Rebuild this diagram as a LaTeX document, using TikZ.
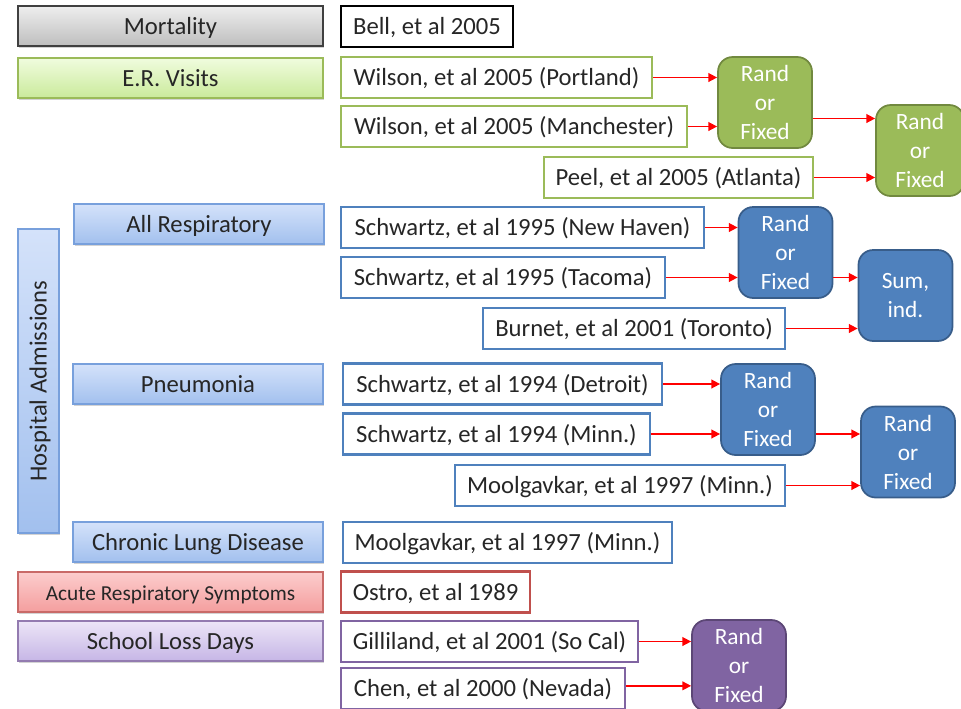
\documentclass[tikz,border=0pt]{standalone}
\usepackage{fontspec}
\setmainfont{Carlito}
\usepackage{tikz}
\usetikzlibrary{arrows.meta,shadows}
\definecolor{ergreen}{RGB}{155,187,89}
\definecolor{ergreendk}{RGB}{113,137,63}
\definecolor{hablue}{RGB}{79,129,189}
\definecolor{hablueln}{RGB}{120,160,220}
\definecolor{habluedk}{RGB}{56,93,138}
\definecolor{arsred}{RGB}{192,80,77}
\definecolor{slpurple}{RGB}{128,100,162}
\definecolor{slpurpledk}{RGB}{92,71,118}
% gradient ends of the outcome boxes
\definecolor{graytop}{RGB}{238,238,238}
\definecolor{graybot}{RGB}{190,190,190}
\definecolor{greentop}{RGB}{240,252,222}
\definecolor{greenbot}{RGB}{202,234,155}
\definecolor{bluetop}{RGB}{212,226,250}
\definecolor{bluebot}{RGB}{162,192,238}
\definecolor{redtop}{RGB}{252,205,205}
\definecolor{redbot}{RGB}{244,158,158}
\definecolor{purptop}{RGB}{236,229,247}
\definecolor{purpbot}{RGB}{198,182,230}
\tikzset{
  catbox/.style={rectangle, minimum width=228.75pt, minimum height=30pt, inner sep=2pt, line width=0.9pt,
    font=\fontsize{18.5}{21}\selectfont, text=black!85, text height=13pt, text depth=1pt,
    drop shadow={shadow xshift=1pt, shadow yshift=-1.4pt, opacity=0.35}},
  catgray/.style={catbox, draw=black!75, top color=graytop, bottom color=graybot},
  catgreen/.style={catbox, draw=ergreen, top color=greentop, bottom color=greenbot},
  catblue/.style={catbox, draw=hablueln, top color=bluetop, bottom color=bluebot},
  catred/.style={catbox, draw=arsred!85, top color=redtop, bottom color=redbot, font=\fontsize{16}{19}\selectfont},
  catpurple/.style={catbox, draw=slpurple!85, top color=purptop, bottom color=purpbot},
  studybox/.style={rectangle, fill=white, minimum height=30.75pt, inner sep=2pt, line width=2.2pt,
    font=\fontsize{18.5}{21}\selectfont, text=black!85, text height=13pt, text depth=1pt},
  poolbox/.style={rectangle, rounded corners=11pt, minimum width=70.5pt, minimum height=68.25pt, inner sep=1pt,
    line width=1.3pt, align=center, text=white, font=\fontsize{17.5}{21.75}\selectfont},
  redarrow/.style={-{Triangle[length=6.5pt,width=6.5pt]}, line width=1.1pt, red}
}

\begin{document}
\begin{tikzpicture}[x=0.75pt,y=-0.75pt]
\useasboundingbox (0,0) rectangle (961,708);
\clip (0,0) rectangle (961,708);
% outcome categories
\node[catgray] (mort) at (170.5,26) {Mortality};
\node[catgreen] (er) at (170.5,78) {E.R. Visits};
\node[catblue, rotate=90, minimum width=228pt, minimum height=30.75pt] (hosp) at (38.5,381) {Hospital Admissions};
\node[catblue, minimum width=187.5pt] (allresp) at (199,224) {All Respiratory};
\node[catblue, minimum width=187.5pt] (pneu) at (198,384) {Pneumonia};
\node[catblue, minimum width=187.5pt] (chronic) at (198,542) {Chronic Lung Disease};
\node[catred] (acute) at (170.5,592) {Acute Respiratory Symptoms};
\node[catpurple] (school) at (170.5,641) {School Loss Days};

% studies
\node[studybox, draw=black, minimum width=129pt] (bell) at (427,26.5) {Bell, et al 2005};
\node[studybox, draw=ergreen, minimum width=233.25pt] (wilport) at (496.5,77.5) {Wilson, et al 2005 (Portland)};
\node[studybox, draw=ergreen, minimum width=259.5pt] (wilman) at (514,126.5) {Wilson, et al 2005 (Manchester)};
\node[studybox, draw=ergreen, minimum width=201.75pt] (peel) at (678.5,177.5) {Peel, et al 2005 (Atlanta)};
\node[studybox, draw=hablue, minimum width=272.25pt] (schnh) at (522.5,227.5) {Schwartz, et al 1995 (New Haven)};
\node[studybox, draw=hablue, minimum width=243pt] (schtac) at (503,277.5) {Schwartz, et al 1995 (Tacoma)};
\node[studybox, draw=hablue, minimum width=226.5pt] (burnet) at (634,328.5) {Burnet, et al 2001 (Toronto)};
\node[studybox, draw=hablue, minimum width=239.25pt] (schdet) at (502.5,384) {Schwartz, et al 1994 (Detroit)};
\node[studybox, draw=hablue, minimum width=230.25pt] (schminn) at (496.5,434) {Schwartz, et al 1994 (Minn.)};
\node[studybox, draw=hablue, minimum width=247.5pt] (moolpn) at (620,485.5) {Moolgavkar, et al 1997 (Minn.)};
\node[studybox, draw=hablue, minimum width=246.75pt] (moolcld) at (507.5,542.5) {Moolgavkar, et al 1997 (Minn.)};
\node[studybox, draw=arsred, minimum width=141.75pt] (ostro) at (435.5,592) {Ostro, et al 1989};
\node[studybox, draw=slpurple, minimum width=222.75pt] (gill) at (489.5,641.5) {Gilliland, et al 2001 (So Cal)};
\node[studybox, draw=slpurple, minimum width=213pt] (chen) at (483,688.5) {Chen, et al 2000 (Nevada)};

% pooling steps
\node[poolbox, fill=ergreen, draw=ergreendk] (grf1) at (765,102.5) {Rand\\or\\Fixed};
\node[poolbox, fill=ergreen, draw=ergreendk, minimum width=66pt] (grf2) at (920,150.5) {Rand\\or\\Fixed};
\node[poolbox, fill=hablue, draw=habluedk] (brf1) at (785.5,252.5) {Rand\\or\\Fixed};
\node[poolbox, fill=hablue, draw=habluedk] (bsum) at (905.5,295.5) {Sum,\\ind.};
\node[poolbox, fill=hablue, draw=habluedk] (brf2) at (768,409.5) {Rand\\or\\Fixed};
\node[poolbox, fill=hablue, draw=habluedk] (brf3) at (908,452) {Rand\\or\\Fixed};
\node[poolbox, fill=slpurple, draw=slpurpledk] (prf) at (739,665.5) {Rand\\or\\Fixed};

% arrows
\draw[redarrow] (wilport.east) -- (wilport.east -| grf1.west);
\draw[redarrow] (wilman.east) -- (wilman.east -| grf1.west);
\draw[redarrow] ([yshift=-12pt]grf1.east) -- ([yshift=-12pt]grf1.east -| grf2.west);
\draw[redarrow] (peel.east) -- (peel.east -| grf2.west);
\draw[redarrow] (schnh.east) -- (schnh.east -| brf1.west);
\draw[redarrow] (schtac.east) -- (schtac.east -| brf1.west);
\draw[redarrow] (schtac.east -| brf1.east) -- (schtac.east -| bsum.west);
\draw[redarrow] (burnet.east) -- (burnet.east -| bsum.west);
\draw[redarrow] (schdet.east) -- (schdet.east -| brf2.west);
\draw[redarrow] (schminn.east) -- (schminn.east -| brf2.west);
\draw[redarrow] (schminn.east -| brf2.east) -- (schminn.east -| brf3.west);
\draw[redarrow] (moolpn.east) -- (moolpn.east -| brf3.west);
\draw[redarrow] (gill.east) -- (gill.east -| prf.west);
\draw[redarrow] ([yshift=2pt]chen.east) -- ([yshift=2pt]chen.east -| prf.west);
\end{tikzpicture}
\end{document}
